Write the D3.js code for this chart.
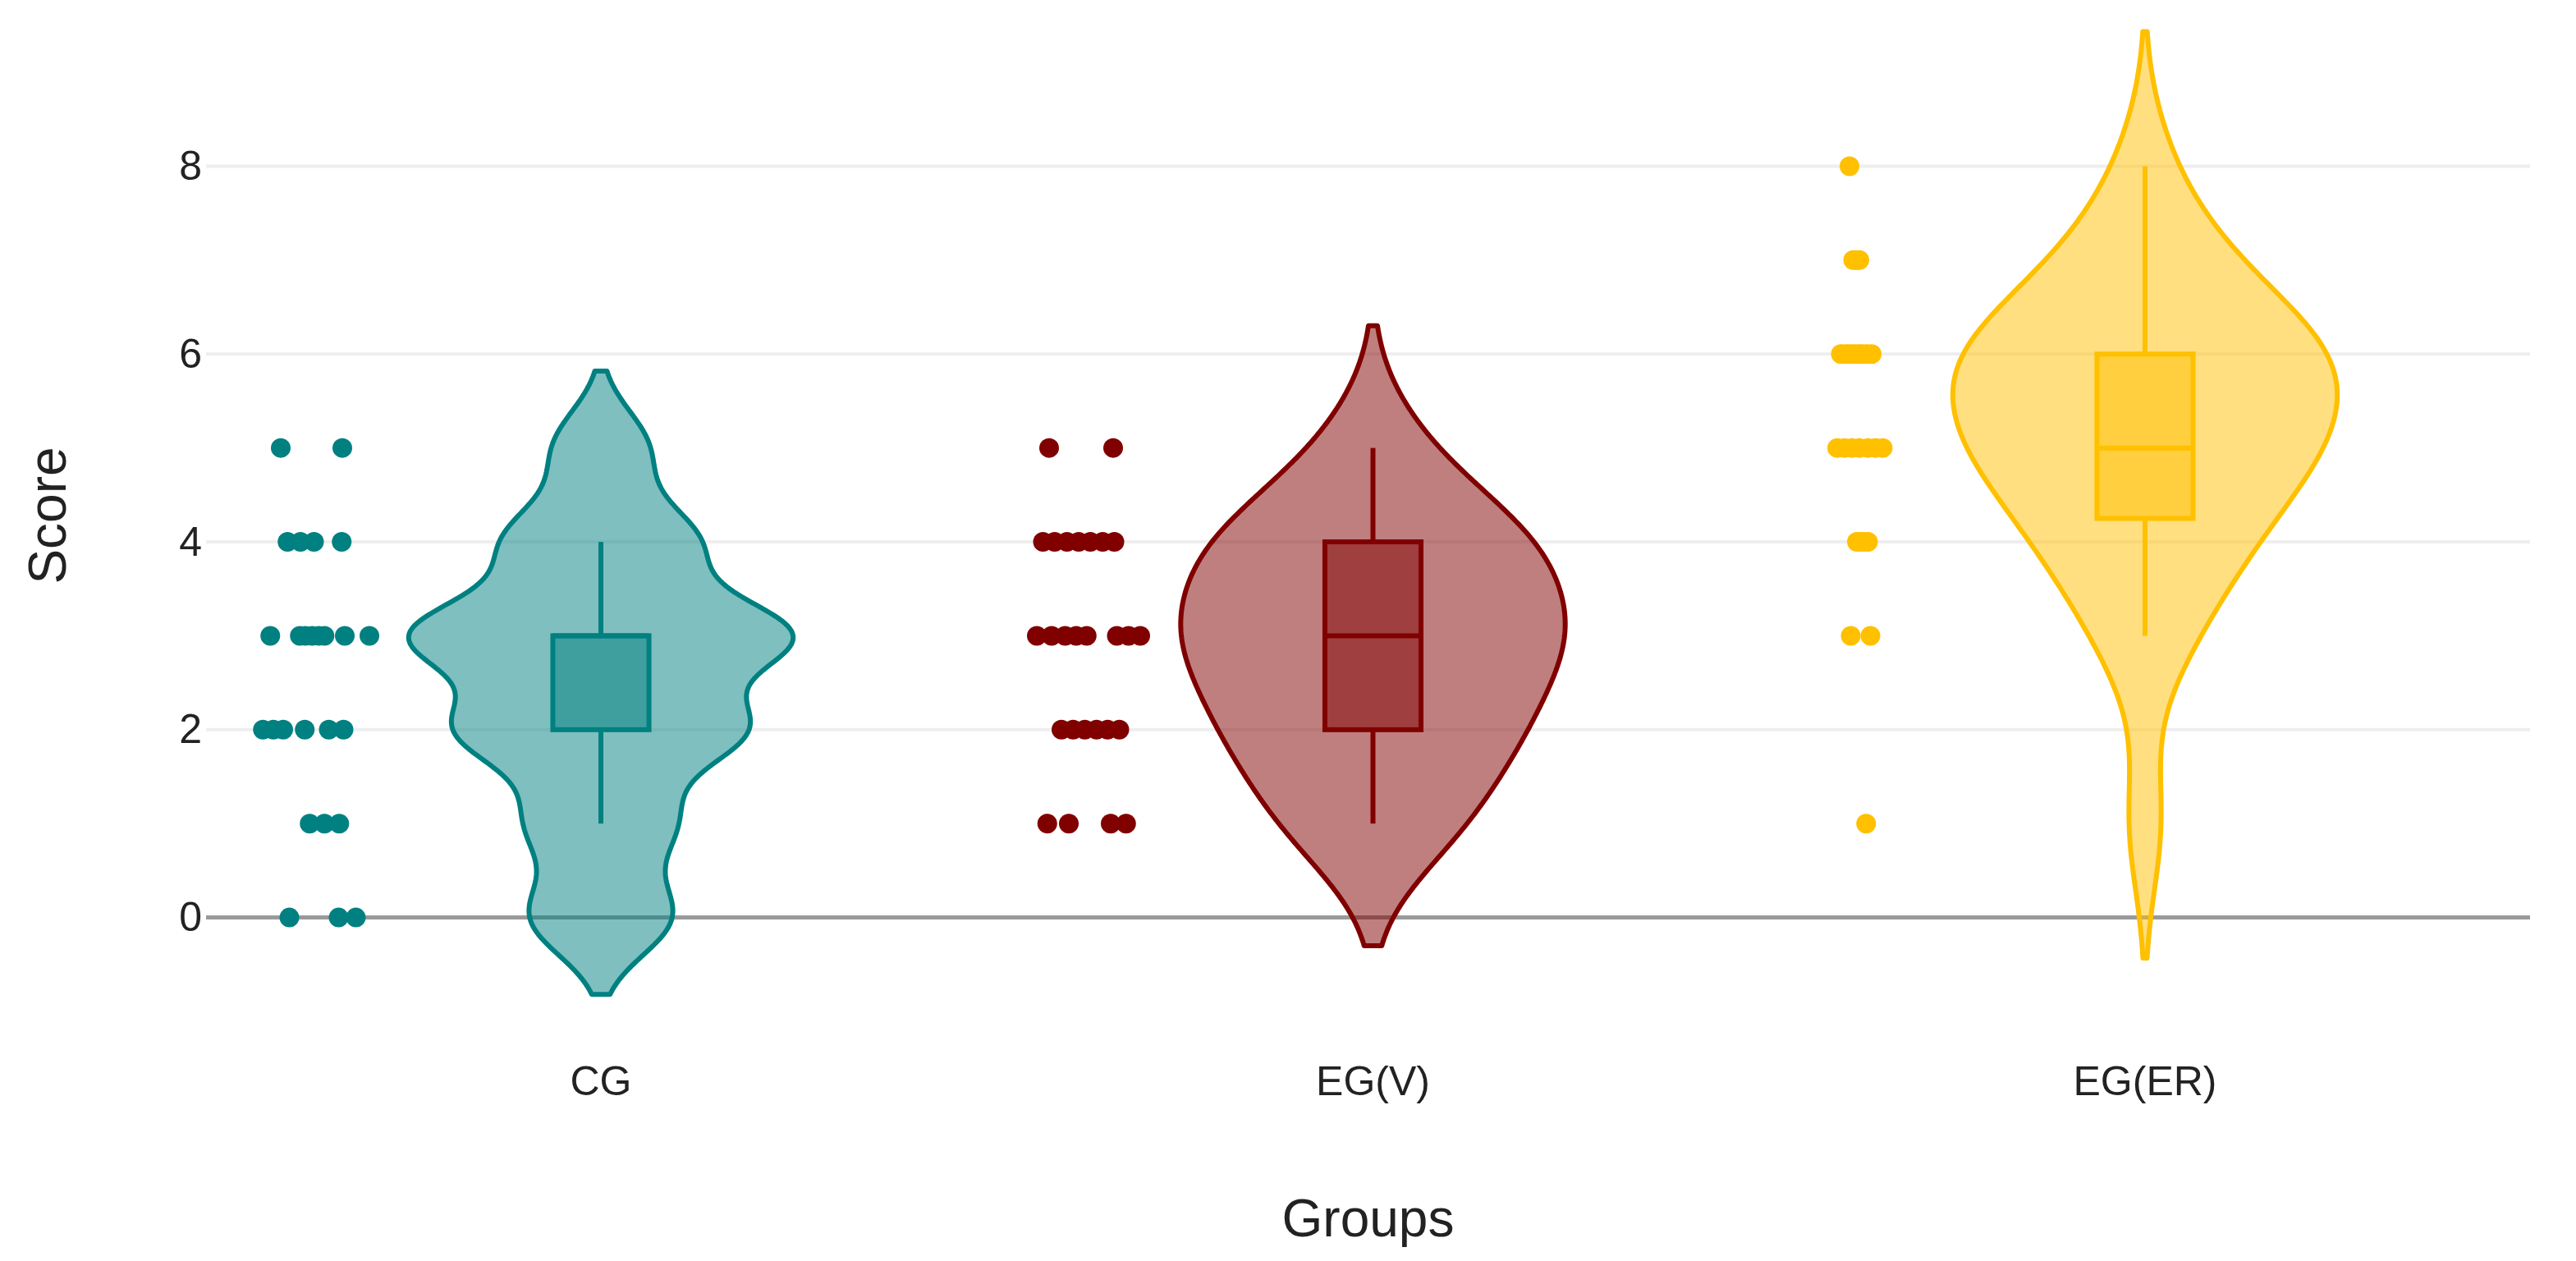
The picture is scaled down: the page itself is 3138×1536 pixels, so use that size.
<!DOCTYPE html>
<html>
<head>
<meta charset="utf-8">
<script src="https://cdn.jsdelivr.net/npm/d3@7"></script>
<style>
  html, body { margin: 0; padding: 0; background: #ffffff; }
  svg { display: block; }
  text { font-family: "Liberation Sans", Arial, sans-serif; fill: #222; }
</style>
</head>
<body>
<svg id="chart" width="3138" height="1536"></svg>
<script>
// ---------------- data ----------------
const categories = ["CG", "EG(V)", "EG(ER)"];
const colors = ["#008080", "#800000", "#FFC000"];

// individual scores per group
const cgScores   = [0,0,0, 1,1,1, 2,2,2,2,2,2, 3,3,3,3,3,3,3,3, 4,4,4,4, 5,5];
const egvScores  = [1,1,1,1, 2,2,2,2,2,2, 3,3,3,3,3,3,3,3, 4,4,4,4,4,4,4, 5,5];
const egerScores = [1, 3,3, 4,4,4,4, 5,5,5,5,5,5,5, 6,6,6,6,6,6,6,6, 7,7,7, 8];

// horizontal jitter of each point (fraction of jitter half-width)
const cgJitter   = [-0.37,0.43,0.71, -0.04,0.2,0.44, -0.8,-0.63,-0.47,-0.12,0.27,0.51,
                    -0.68,-0.2,-0.11,0,0.11,0.2,0.53,0.93, -0.4,-0.19,0.03,0.48, -0.51,0.49];
const egvJitter  = [-0.6,-0.25,0.43,0.68, -0.37,-0.18,0.01,0.2,0.38,0.57,
                    -0.77,-0.53,-0.31,-0.13,0.04,0.53,0.72,0.91,
                    -0.67,-0.48,-0.28,-0.09,0.1,0.3,0.49, -0.57,0.47];
const egerJitter = [0.16, -0.09,0.23, 0.01,0.05,0.12,0.19, -0.31,-0.19,-0.07,0.05,0.19,0.31,0.43,
                    -0.25,-0.17,-0.11,-0.04,0.03,0.09,0.17,0.25, -0.05,0,0.05, -0.11];

const yTicks = [0, 2, 4, 6, 8];
const yDomain = [-0.86, 9.42];
const xTitle = "Groups";
const yTitle = "Score";

const groups = [
  { name: categories[0], color: colors[0], scores: cgScores,   jitter: cgJitter },
  { name: categories[1], color: colors[1], scores: egvScores,  jitter: egvJitter },
  { name: categories[2], color: colors[2], scores: egerScores, jitter: egerJitter }
];

// ---------------- layout ----------------
const plot = { left: 251, right: 3082, top: 40, bottom: 1216 };
const svg = d3.select("#chart");

const x = d3.scaleBand().domain(categories).range([261.75, 3083.25]).paddingInner(0).paddingOuter(0);
const step = x.step();
const cx = c => x(c) + x.bandwidth() / 2;
const y = d3.scaleLinear().domain(yDomain).range([plot.bottom, plot.top]);

const maxHalf = step * 0.249;    // violin max half-width
const boxHalf = maxHalf * 0.25;  // box half-width
const pointOffset = -step * 0.374;
const jitterHalf = 75;
const pointR = 12;
const lw = 6;

// gridlines
const grid = svg.append("g");
grid.selectAll("line.grid").data(yTicks.filter(t => t !== 0)).join("line")
  .attr("x1", plot.left).attr("x2", plot.right)
  .attr("y1", d => y(d)).attr("y2", d => y(d))
  .attr("stroke", "#eeeeee").attr("stroke-width", 4);
// zero line
grid.append("line")
  .attr("x1", plot.left).attr("x2", plot.right)
  .attr("y1", y(0)).attr("y2", y(0))
  .attr("stroke", "#9a9a9a").attr("stroke-width", 5);

// y axis (labels only)
const yAxis = d3.axisLeft(y).tickValues(yTicks).tickSize(0).tickPadding(5).tickFormat(d3.format("d"));
const yg = svg.append("g").attr("transform", `translate(${plot.left},0)`).call(yAxis);
yg.select(".domain").remove();
yg.selectAll("text").attr("font-size", 50).attr("fill", "#222")
  .style("font-family", '"Liberation Sans", Arial, sans-serif');

// x axis (labels only)
const xAxis = d3.axisBottom(x).tickSize(0).tickPadding(0);
const xg = svg.append("g").attr("transform", `translate(0,1334)`).call(xAxis);
xg.select(".domain").remove();
xg.selectAll("text").attr("font-size", 50).attr("fill", "#222").attr("dy", 0)
  .style("font-family", '"Liberation Sans", Arial, sans-serif');

// axis titles
svg.append("text").attr("x", (plot.left + plot.right) / 2).attr("y", 1506)
  .attr("text-anchor", "middle").attr("font-size", 64).text(xTitle);
svg.append("text").attr("transform", `translate(80,${(plot.top + plot.bottom) / 2}) rotate(-90)`)
  .attr("text-anchor", "middle").attr("font-size", 64).text(yTitle);

// ---------------- statistics ----------------
function stats(vals) {
  const s = vals.slice().sort(d3.ascending);
  const q1 = d3.quantileSorted(s, 0.25), med = d3.quantileSorted(s, 0.5), q3 = d3.quantileSorted(s, 0.75);
  const iqr = q3 - q1;
  const lo = d3.min(s.filter(v => v >= q1 - 1.5 * iqr));
  const hi = d3.max(s.filter(v => v <= q3 + 1.5 * iqr));
  const sd = d3.deviation(s);
  const bw = 1.059 * Math.min(sd, iqr / 1.349) * Math.pow(s.length, -0.2);
  return { s, q1, med, q3, lo, hi, bw, min: s[0], max: s[s.length - 1] };
}

groups.forEach(g => {
  const st = stats(g.scores);
  const c = cx(g.name);
  const kde = v => d3.sum(st.s, xi => Math.exp(-0.5 * Math.pow((v - xi) / st.bw, 2)));
  const a = st.min - 2 * st.bw, b = st.max + 2 * st.bw;
  const N = 240;
  const samples = d3.range(N + 1).map(i => { const v = a + (b - a) * i / N; return { v, d: kde(v) }; });
  const dmax = d3.max(samples, d => d.d);
  const w = d3.scaleLinear().domain([0, dmax]).range([0, maxHalf]);

  const layer = svg.append("g");
  // violin
  const area = d3.area().curve(d3.curveLinear)
    .y(d => y(d.v)).x0(d => c - w(d.d)).x1(d => c + w(d.d));
  layer.append("path").datum(samples).attr("d", area)
    .attr("fill", g.color).attr("fill-opacity", 0.5)
    .attr("stroke", g.color).attr("stroke-width", lw).attr("stroke-linejoin", "round");

  // whiskers
  layer.append("line").attr("x1", c).attr("x2", c).attr("y1", y(st.q3)).attr("y2", y(st.hi))
    .attr("stroke", g.color).attr("stroke-width", lw);
  layer.append("line").attr("x1", c).attr("x2", c).attr("y1", y(st.q1)).attr("y2", y(st.lo))
    .attr("stroke", g.color).attr("stroke-width", lw);
  // box
  layer.append("rect").attr("x", c - boxHalf).attr("width", 2 * boxHalf)
    .attr("y", y(st.q3)).attr("height", y(st.q1) - y(st.q3))
    .attr("fill", g.color).attr("fill-opacity", 0.5)
    .attr("stroke", g.color).attr("stroke-width", lw);
  // median
  layer.append("line").attr("x1", c - boxHalf).attr("x2", c + boxHalf)
    .attr("y1", y(st.med)).attr("y2", y(st.med))
    .attr("stroke", g.color).attr("stroke-width", lw);

  // points
  const pts = g.scores.map((v, i) => ({ v, j: g.jitter[i] }));
  layer.selectAll("circle").data(pts).join("circle")
    .attr("cx", d => c + pointOffset + d.j * jitterHalf)
    .attr("cy", d => y(d.v))
    .attr("r", pointR)
    .attr("fill", g.color);
});
</script>
</body>
</html>
